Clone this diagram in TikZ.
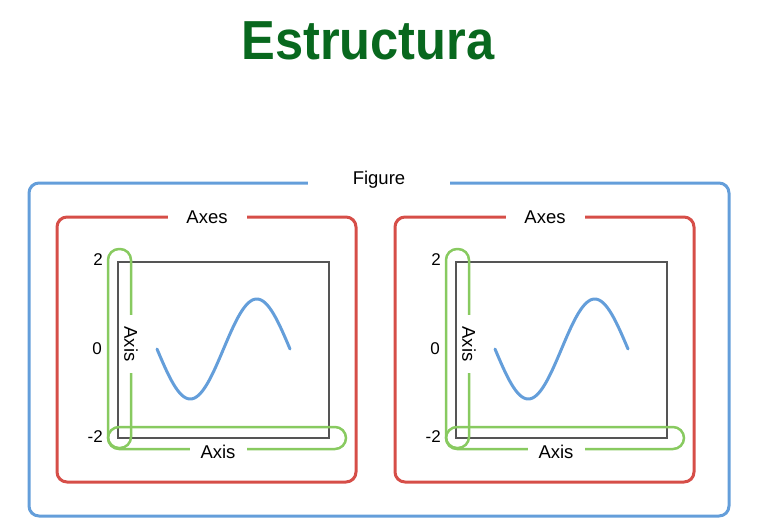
\documentclass[tikz,border=0pt]{standalone}
\usepackage{fontspec}
\setmainfont{Liberation Sans}
\usepackage{xcolor}
\usetikzlibrary{positioning}

\definecolor{titlegreen}{RGB}{8,104,30}
\definecolor{figblue}{RGB}{100,158,218}
\definecolor{axesred}{RGB}{214,78,72}
\definecolor{axisgreen}{RGB}{136,202,96}
\definecolor{plotgray}{RGB}{85,85,85}

\begin{document}
\begin{tikzpicture}[
    x=1pt, y=-1pt,
    gaplabel/.style={fill=white, font=\fontsize{18.5}{20}\selectfont, inner xsep=1pt, inner ysep=0.5pt},
    ticklabel/.style={font=\fontsize{17}{18}\selectfont, inner sep=0pt, anchor=east},
    figbox/.style={draw=figblue, line width=3pt, rounded corners=10pt},
    axesbox/.style={draw=axesred, line width=3pt, rounded corners=10pt},
    axisloop/.style={draw=axisgreen, line width=2.5pt, rounded corners=11pt},
    plotbox/.style={draw=plotgray, line width=2pt},
    wave/.style={draw=figblue, line width=3pt, line cap=round}
]
\useasboundingbox (0,0) rectangle (763,530);

\node[font=\fontsize{55}{60}\selectfont\bfseries, text=titlegreen, xscale=0.92, transform shape] (title) at (368,41) {Estructura};

% figure
\draw[figbox] (29,183) rectangle (729,516);
\node[gaplabel, minimum width=142pt] (figure) at (379,180) {Figure};

% two axes, same layout
\foreach \px/\side in {0/L, 338/R} {
\begin{scope}[shift={(\px,0)}]
\draw[axesbox] (57,217) rectangle (356,482);
\node[gaplabel, minimum width=79pt] (axes\side) at (207,217) {Axes};

\draw[plotbox] (118,262) rectangle (329,438);
\draw[wave] plot[domain=0:133, samples=80, smooth] ({157+\x},{349+50*sin(\x/133*360)});

\draw[axisloop] (108,249) rectangle (131,448);
\draw[axisloop] (108,427) rectangle (346,449);
\node[gaplabel, rotate=-90, minimum width=58pt] (yaxis\side) at (131,344) {Axis};
\node[gaplabel, minimum width=57pt] (xaxis\side) at (218,452) {Axis};

\node[ticklabel] (ytop\side) at (103,260) {2};
\node[ticklabel] (ymid\side) at (102,349) {0};
\node[ticklabel] (ybot\side) at (103,437) {-2};
\end{scope}
}

\end{tikzpicture}
\end{document}
